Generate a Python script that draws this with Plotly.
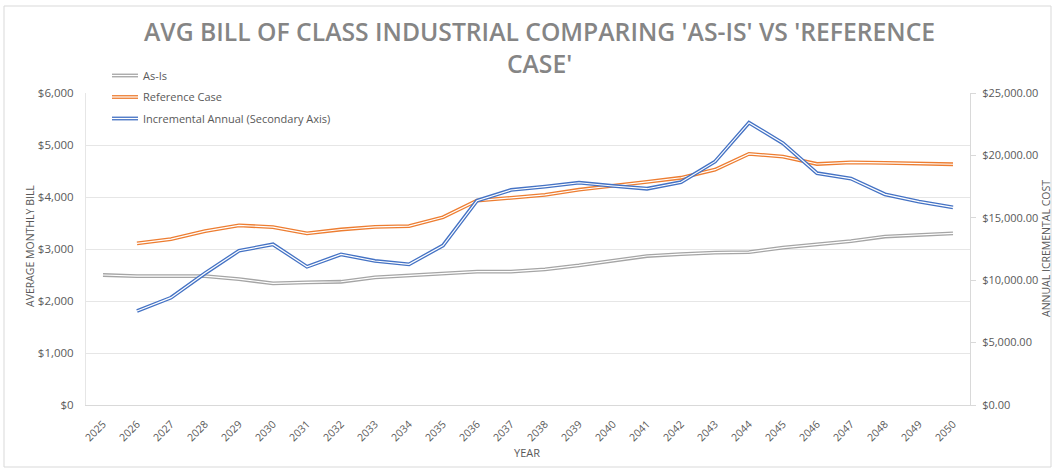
import plotly.graph_objects as go

years = [str(y) for y in range(2025, 2051)]
as_is = [2500, 2480, 2480, 2480, 2420, 2340, 2360, 2370, 2455, 2490, 2525, 2565, 2565,
         2610, 2685, 2780, 2865, 2900, 2930, 2940, 3025, 3090, 3150, 3240, 3275, 3300]
reference_case = [None, 3110, 3190, 3345, 3455, 3420, 3300, 3375, 3425, 3440, 3610, 3930, 3990,
                  4040, 4140, 4210, 4290, 4370, 4525, 4830, 4775, 4635, 4665, 4655, 4640, 4630]
incremental = [None, 7530, 8600, 10550, 12360, 12870, 11080, 12070, 11540, 11270, 12780, 16370, 17230,
               17500, 17810, 17550, 17330, 17850, 19500, 22620, 20970, 18570, 18140, 16880, 16290, 15840]

series_names = ["As-Is", "Reference Case", "Incremental Annual (Secondary Axis)"]
colors = ["#A5A5A5", "#ED7D31", "#4472C4"]

W, H = 1055, 471
L, R, T, B = 86, 970, 93, 405
PW, PH = R - L, B - T

def px(x):
    return (x - L) / PW

def py(y):
    return (B - y) / PH

FONT = "Open Sans"
TXT = "#595959"

fig = go.Figure()
data = [(as_is, "y"), (reference_case, "y"), (incremental, "y2")]
for (vals, ax), name, col in zip(data, series_names, colors):
    fig.add_trace(go.Scatter(x=years, y=vals, mode="lines", name=name, yaxis=ax,
                             line=dict(color=col, width=3.8), showlegend=False,
                             hoverinfo="skip"))
    fig.add_trace(go.Scatter(x=years, y=vals, mode="lines", name=name, yaxis=ax,
                             line=dict(color="white", width=1.2), showlegend=False,
                             hoverinfo="skip"))

shapes = []
annotations = []
# chart border
shapes.append(dict(type="rect", xref="paper", yref="paper", x0=px(4), x1=px(1051), y0=py(467), y1=py(6),
                   line=dict(color="#D9D9D9", width=1), fillcolor="rgba(0,0,0,0)", layer="below"))

# manual legend with double-line symbols
leg_rows = [75.5, 97, 118.5]
for name, col, ry in zip(series_names, colors, leg_rows):
    shapes.append(dict(type="line", xref="paper", yref="paper", x0=px(112), x1=px(138), y0=py(ry), y1=py(ry),
                       line=dict(color=col, width=3.8)))
    shapes.append(dict(type="line", xref="paper", yref="paper", x0=px(112), x1=px(138), y0=py(ry), y1=py(ry),
                       line=dict(color="white", width=1.2)))
    annotations.append(dict(text=name, xref="paper", yref="paper", x=px(141), y=py(ry), xanchor="left",
                            yanchor="middle", showarrow=False, font=dict(family=FONT, size=11, color=TXT)))

# title
annotations.append(dict(text="AVG BILL OF CLASS INDUSTRIAL COMPARING 'AS-IS' VS 'REFERENCE<br>CASE'",
                        xref="paper", yref="paper", x=px(539), y=py(47.5), xanchor="center", yanchor="middle",
                        showarrow=False, align="center",
                        font=dict(family=FONT, size=24.7, color="#858585", weight=600)))
# axis titles
annotations.append(dict(text="AVERAGE MONTHLY BILL", xref="paper", yref="paper", x=px(30), y=py(246),
                        textangle=-90, showarrow=False, xanchor="center", yanchor="middle",
                        font=dict(family=FONT, size=10.5, color=TXT)))
annotations.append(dict(text="ANNUAL ICREMENTAL COST", xref="paper", yref="paper", x=px(1046), y=py(249),
                        textangle=-90, showarrow=False, xanchor="center", yanchor="middle",
                        font=dict(family=FONT, size=10.5, color=TXT)))
annotations.append(dict(text="YEAR", xref="paper", yref="paper", x=px(527), y=py(452),
                        showarrow=False, xanchor="center", yanchor="middle",
                        font=dict(family=FONT, size=11, color=TXT)))

fig.update_layout(
    width=W, height=H,
    margin=dict(l=L, r=W - R, t=T, b=H - B, pad=0, autoexpand=False),
    paper_bgcolor="white", plot_bgcolor="white",
    font=dict(family=FONT, size=11, color=TXT),
    showlegend=False,
    shapes=shapes, annotations=annotations,
    xaxis=dict(type="category", range=[-0.5, 25.5], tickangle=-45, showgrid=False, automargin=False,
               showline=True, linecolor="#D9D9D9", linewidth=1,
               ticks="outside", ticklen=8, tickcolor="rgba(0,0,0,0)",
               tickfont=dict(family=FONT, size=10.5, color=TXT), fixedrange=True),
    yaxis=dict(range=[0, 6000], dtick=1000, tickprefix="$", tickformat=",.0f", automargin=False,
               showgrid=True, gridcolor="#E6E6E6", gridwidth=1, zeroline=False,
               showline=True, linecolor="#E6E6E6",
               ticks="outside", ticklen=9, tickcolor="rgba(0,0,0,0)",
               tickfont=dict(family=FONT, size=11.5, color=TXT)),
    yaxis2=dict(range=[0, 25000], dtick=5000, tickprefix="$", tickformat=",.2f", automargin=False,
                overlaying="y", side="right", showgrid=False, zeroline=False,
                showline=True, linecolor="#D9D9D9", linewidth=1,
                ticks="outside", ticklen=5, tickcolor="#D9D9D9",
                ticklabelstandoff=4,
                tickfont=dict(family=FONT, size=11, color=TXT)),
)

fig.write_html("out.html", config={"displayModeBar": False},
               post_script="document.body.style.margin='0';document.body.style.overflow='hidden';")
